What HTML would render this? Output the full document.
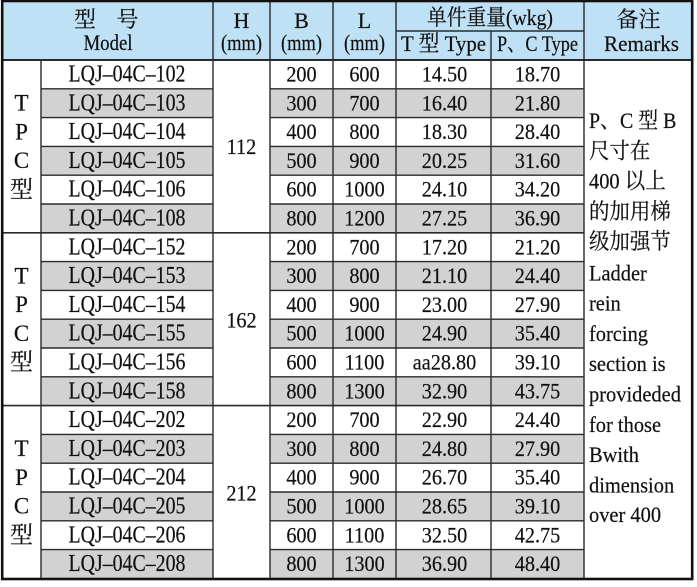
<!DOCTYPE html>
<html><head><meta charset="utf-8"><style>
html,body{margin:0;padding:0;background:#fff;}
svg{display:block;}
text{font-family:"Liberation Serif","Noto Serif CJK SC",serif;fill:#111;stroke:#111;stroke-width:0.2;}
.m{font-size:24px;}
</style></head><body>
<svg width="697" height="587" viewBox="0 0 697 587" xmlns="http://www.w3.org/2000/svg">
<rect x="0" y="0" width="697" height="587" fill="#fff"/>
<rect x="3" y="1.5" width="688.5" height="58.5" fill="#bfe1f6"/>
<g fill="#d2d2d2">
<rect x="41" y="88.8" width="172" height="28.8"/><rect x="270" y="88.8" width="314" height="28.8"/>
<rect x="41" y="146.4" width="172" height="28.8"/><rect x="270" y="146.4" width="314" height="28.8"/>
<rect x="41" y="204" width="172" height="28.8"/><rect x="270" y="204" width="314" height="28.8"/>
<rect x="41" y="261.6" width="172" height="28.8"/><rect x="270" y="261.6" width="314" height="28.8"/>
<rect x="41" y="319.2" width="172" height="28.8"/><rect x="270" y="319.2" width="314" height="28.8"/>
<rect x="41" y="376.8" width="172" height="28.8"/><rect x="270" y="376.8" width="314" height="28.8"/>
<rect x="41" y="434.4" width="172" height="28.8"/><rect x="270" y="434.4" width="314" height="28.8"/>
<rect x="41" y="492" width="172" height="28.8"/><rect x="270" y="492" width="314" height="28.8"/>
<rect x="41" y="549.6" width="172" height="28.8"/><rect x="270" y="549.6" width="314" height="28.8"/>
</g>
<g stroke="#2a2a2a" stroke-width="1.4" fill="none">
<line x1="396" y1="31" x2="584" y2="31"/>
<line x1="213" y1="1" x2="213" y2="579"/>
<line x1="270" y1="1" x2="270" y2="579"/>
<line x1="333" y1="1" x2="333" y2="579"/>
<line x1="396" y1="1" x2="396" y2="579"/>
<line x1="491" y1="31" x2="491" y2="579"/>
<line x1="584" y1="1" x2="584" y2="579"/>
<line x1="41" y1="60" x2="41" y2="579"/>
<path d="M41 88.8H213M270 88.8H584
M41 117.6H213M270 117.6H584
M41 146.4H213M270 146.4H584
M41 175.2H213M270 175.2H584
M41 204H213M270 204H584
M41 261.6H213M270 261.6H584
M41 290.4H213M270 290.4H584
M41 319.2H213M270 319.2H584
M41 348H213M270 348H584
M41 376.8H213M270 376.8H584
M41 434.4H213M270 434.4H584
M41 463.2H213M270 463.2H584
M41 492H213M270 492H584
M41 520.8H213M270 520.8H584
M41 549.6H213M270 549.6H584"/>
<path d="M3 232.8H584M3 405.6H584" stroke-width="1.6"/>
<line x1="3" y1="60" x2="692" y2="60" stroke-width="2"/>
</g>
<rect x="2.2" y="1" width="690" height="578" fill="none" stroke="#111" stroke-width="2.6"/>

<g font-size="22" text-anchor="middle">
<text x="85" y="27">型</text><text x="127.5" y="27">号</text>
<text x="108" y="50" textLength="49" lengthAdjust="spacingAndGlyphs">Model</text>
<text x="241.5" y="28">H</text><text x="241.5" y="50" textLength="41" lengthAdjust="spacingAndGlyphs">(mm)</text>
<text x="301.5" y="28">B</text><text x="301.5" y="50" textLength="41" lengthAdjust="spacingAndGlyphs">(mm)</text>
<text x="364.5" y="28">L</text><text x="364.5" y="50" textLength="41" lengthAdjust="spacingAndGlyphs">(mm)</text>
<text x="490" y="25" textLength="126" lengthAdjust="spacingAndGlyphs">单件重量(wkg)</text>
<text x="443.5" y="51" textLength="85" lengthAdjust="spacingAndGlyphs">T 型 Type</text>
<text x="537.5" y="51" textLength="81" lengthAdjust="spacingAndGlyphs">P、C Type</text>
<text x="638.5" y="27">备注</text>
<text x="641.5" y="51" textLength="75" lengthAdjust="spacingAndGlyphs">Remarks</text>
</g>

<g font-size="23" text-anchor="middle">
<text x="21.5" y="110.5">T</text><text x="21.5" y="139.3">P</text><text x="21.5" y="168.1">C</text><text x="21.5" y="197">型</text>
<text x="21.5" y="283.3">T</text><text x="21.5" y="312.1">P</text><text x="21.5" y="340.9">C</text><text x="21.5" y="369.7">型</text>
<text x="21.5" y="456.1">T</text><text x="21.5" y="484.9">P</text><text x="21.5" y="513.7">C</text><text x="21.5" y="542.5">型</text>
</g>

<g font-size="22.5" text-anchor="middle" transform="scale(0.9,1)">
<text x="268.33" y="154">112</text>
<text x="268.33" y="327.5">162</text>
<text x="268.33" y="500.3">212</text>

<text class="m" x="141.11" y="81.5" textLength="130" lengthAdjust="spacingAndGlyphs">LQJ–04C–102</text><text x="335" y="81.5">200</text><text x="405" y="81.5">600</text><text x="493.89" y="81.5">14.50</text><text x="597.22" y="81.5">18.70</text>
<text class="m" x="141.11" y="110.3" textLength="130" lengthAdjust="spacingAndGlyphs">LQJ–04C–103</text><text x="335" y="110.3">300</text><text x="405" y="110.3">700</text><text x="493.89" y="110.3">16.40</text><text x="597.22" y="110.3">21.80</text>
<text class="m" x="141.11" y="139.1" textLength="130" lengthAdjust="spacingAndGlyphs">LQJ–04C–104</text><text x="335" y="139.1">400</text><text x="405" y="139.1">800</text><text x="493.89" y="139.1">18.30</text><text x="597.22" y="139.1">28.40</text>
<text class="m" x="141.11" y="167.9" textLength="130" lengthAdjust="spacingAndGlyphs">LQJ–04C–105</text><text x="335" y="167.9">500</text><text x="405" y="167.9">900</text><text x="493.89" y="167.9">20.25</text><text x="597.22" y="167.9">31.60</text>
<text class="m" x="141.11" y="196.7" textLength="130" lengthAdjust="spacingAndGlyphs">LQJ–04C–106</text><text x="335" y="196.7">600</text><text x="405" y="196.7">1000</text><text x="493.89" y="196.7">24.10</text><text x="597.22" y="196.7">34.20</text>
<text class="m" x="141.11" y="225.5" textLength="130" lengthAdjust="spacingAndGlyphs">LQJ–04C–108</text><text x="335" y="225.5">800</text><text x="405" y="225.5">1200</text><text x="493.89" y="225.5">27.25</text><text x="597.22" y="225.5">36.90</text>

<text class="m" x="141.11" y="254.3" textLength="130" lengthAdjust="spacingAndGlyphs">LQJ–04C–152</text><text x="335" y="254.3">200</text><text x="405" y="254.3">700</text><text x="493.89" y="254.3">17.20</text><text x="597.22" y="254.3">21.20</text>
<text class="m" x="141.11" y="283.1" textLength="130" lengthAdjust="spacingAndGlyphs">LQJ–04C–153</text><text x="335" y="283.1">300</text><text x="405" y="283.1">800</text><text x="493.89" y="283.1">21.10</text><text x="597.22" y="283.1">24.40</text>
<text class="m" x="141.11" y="311.9" textLength="130" lengthAdjust="spacingAndGlyphs">LQJ–04C–154</text><text x="335" y="311.9">400</text><text x="405" y="311.9">900</text><text x="493.89" y="311.9">23.00</text><text x="597.22" y="311.9">27.90</text>
<text class="m" x="141.11" y="340.7" textLength="130" lengthAdjust="spacingAndGlyphs">LQJ–04C–155</text><text x="335" y="340.7">500</text><text x="405" y="340.7">1000</text><text x="493.89" y="340.7">24.90</text><text x="597.22" y="340.7">35.40</text>
<text class="m" x="141.11" y="369.5" textLength="130" lengthAdjust="spacingAndGlyphs">LQJ–04C–156</text><text x="335" y="369.5">600</text><text x="405" y="369.5">1100</text><text x="493.89" y="369.5">aa28.80</text><text x="597.22" y="369.5">39.10</text>
<text class="m" x="141.11" y="398.3" textLength="130" lengthAdjust="spacingAndGlyphs">LQJ–04C–158</text><text x="335" y="398.3">800</text><text x="405" y="398.3">1300</text><text x="493.89" y="398.3">32.90</text><text x="597.22" y="398.3">43.75</text>

<text class="m" x="141.11" y="427.1" textLength="130" lengthAdjust="spacingAndGlyphs">LQJ–04C–202</text><text x="335" y="427.1">200</text><text x="405" y="427.1">700</text><text x="493.89" y="427.1">22.90</text><text x="597.22" y="427.1">24.40</text>
<text class="m" x="141.11" y="455.9" textLength="130" lengthAdjust="spacingAndGlyphs">LQJ–04C–203</text><text x="335" y="455.9">300</text><text x="405" y="455.9">800</text><text x="493.89" y="455.9">24.80</text><text x="597.22" y="455.9">27.90</text>
<text class="m" x="141.11" y="484.7" textLength="130" lengthAdjust="spacingAndGlyphs">LQJ–04C–204</text><text x="335" y="484.7">400</text><text x="405" y="484.7">900</text><text x="493.89" y="484.7">26.70</text><text x="597.22" y="484.7">35.40</text>
<text class="m" x="141.11" y="513.5" textLength="130" lengthAdjust="spacingAndGlyphs">LQJ–04C–205</text><text x="335" y="513.5">500</text><text x="405" y="513.5">1000</text><text x="493.89" y="513.5">28.65</text><text x="597.22" y="513.5">39.10</text>
<text class="m" x="141.11" y="542.3" textLength="130" lengthAdjust="spacingAndGlyphs">LQJ–04C–206</text><text x="335" y="542.3">600</text><text x="405" y="542.3">1100</text><text x="493.89" y="542.3">32.50</text><text x="597.22" y="542.3">42.75</text>
<text class="m" x="141.11" y="571.1" textLength="130" lengthAdjust="spacingAndGlyphs">LQJ–04C–208</text><text x="335" y="571.1">800</text><text x="405" y="571.1">1300</text><text x="493.89" y="571.1">36.90</text><text x="597.22" y="571.1">48.40</text>
</g>

<g font-size="22" transform="scale(0.93,1)">
<text x="633.3" y="128" textLength="94" lengthAdjust="spacingAndGlyphs">P、C 型 B</text>
<text x="633.3" y="158.3">尺寸在</text>
<text x="633.3" y="188.6">400 以上</text>
<text x="633.3" y="218.8">的加用梯</text>
<text x="633.3" y="249.1">级加强节</text>
<text x="633.3" y="280.4">Ladder</text>
<text x="633.3" y="310.7">rein</text>
<text x="633.3" y="341">forcing</text>
<text x="633.3" y="371.2">section is</text>
<text x="633.3" y="401.5">provideded</text>
<text x="633.3" y="431.8">for those</text>
<text x="633.3" y="462.1">Bwith</text>
<text x="633.3" y="492.4">dimension</text>
<text x="633.3" y="522">over 400</text>
</g>
</svg>
</body></html>
